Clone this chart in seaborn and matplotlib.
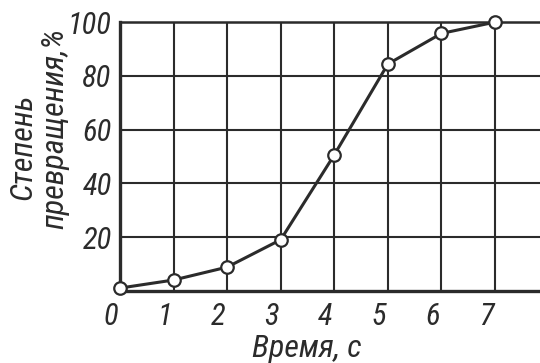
import numpy as np
import pandas as pd
import matplotlib
matplotlib.use("Agg")
import matplotlib.pyplot as plt
import matplotlib.transforms as mtransforms
import seaborn as sns

# data
time_s = [0, 1, 2, 3, 4, 5, 6, 7]
conversion = [1, 4, 8.8, 19, 50.6, 84.4, 95.8, 100]
x_ticks = [0, 1, 2, 3, 4, 5, 6, 7]
y_ticks = [20, 40, 60, 80, 100]

df = pd.DataFrame({"t": time_s, "conv": conversion})

sns.set_style("white")
plt.rcParams["font.family"] = ["Roboto Condensed", "DejaVu Sans"]
plt.rcParams["font.style"] = "italic"

ink = "#2b2b2b"

fig = plt.figure(figsize=(5.4, 3.63), dpi=100)
ax = fig.add_axes([0.2222, 0.199, 0.7778, 0.74])

sns.lineplot(data=df, x="t", y="conv", ax=ax, color=ink, linewidth=2.2,
             marker="o", markersize=9, markerfacecolor="white",
             markeredgecolor=ink, markeredgewidth=1.6, clip_on=False, zorder=5)

ax.set_xlim(0, 7.84)
ax.set_ylim(0, 100)
ax.set_xticks(x_ticks)
ax.set_yticks(y_ticks)
ax.set_xticklabels([str(v) for v in x_ticks], fontsize=22)
ax.set_yticklabels([str(v) for v in y_ticks], fontsize=22)
ax.tick_params(axis="both", length=0)
ax.tick_params(axis="x", pad=8)
ax.tick_params(axis="y", pad=6)

# shift x labels a little to the left, as in the original
offset = mtransforms.ScaledTranslation(-9 / 100, 0, fig.dpi_scale_trans)
for lab in ax.get_xticklabels():
    lab.set_transform(lab.get_transform() + offset)

ax.grid(True, color=ink, linewidth=1.5)
ax.axhline(100, color=ink, linewidth=1.8, clip_on=False)

for side in ["top", "right"]:
    ax.spines[side].set_visible(False)
for side in ["left", "bottom"]:
    ax.spines[side].set_color(ink)
    ax.spines[side].set_linewidth(2.4)

ax.set_xlabel("")
ax.set_ylabel("")
fig.text(0.569, 0.017, "Время, с", fontsize=23, color=ink, ha="center", va="baseline")
fig.text(0.043, 0.595, "Степень", fontsize=23, color=ink, rotation=90,
         ha="center", va="center")
fig.text(0.102, 0.647, "превращения,%", fontsize=23, color=ink, rotation=90,
         ha="center", va="center")

for lab in ax.get_xticklabels() + ax.get_yticklabels():
    lab.set_color(ink)

fig.savefig("out.png", dpi=100)
